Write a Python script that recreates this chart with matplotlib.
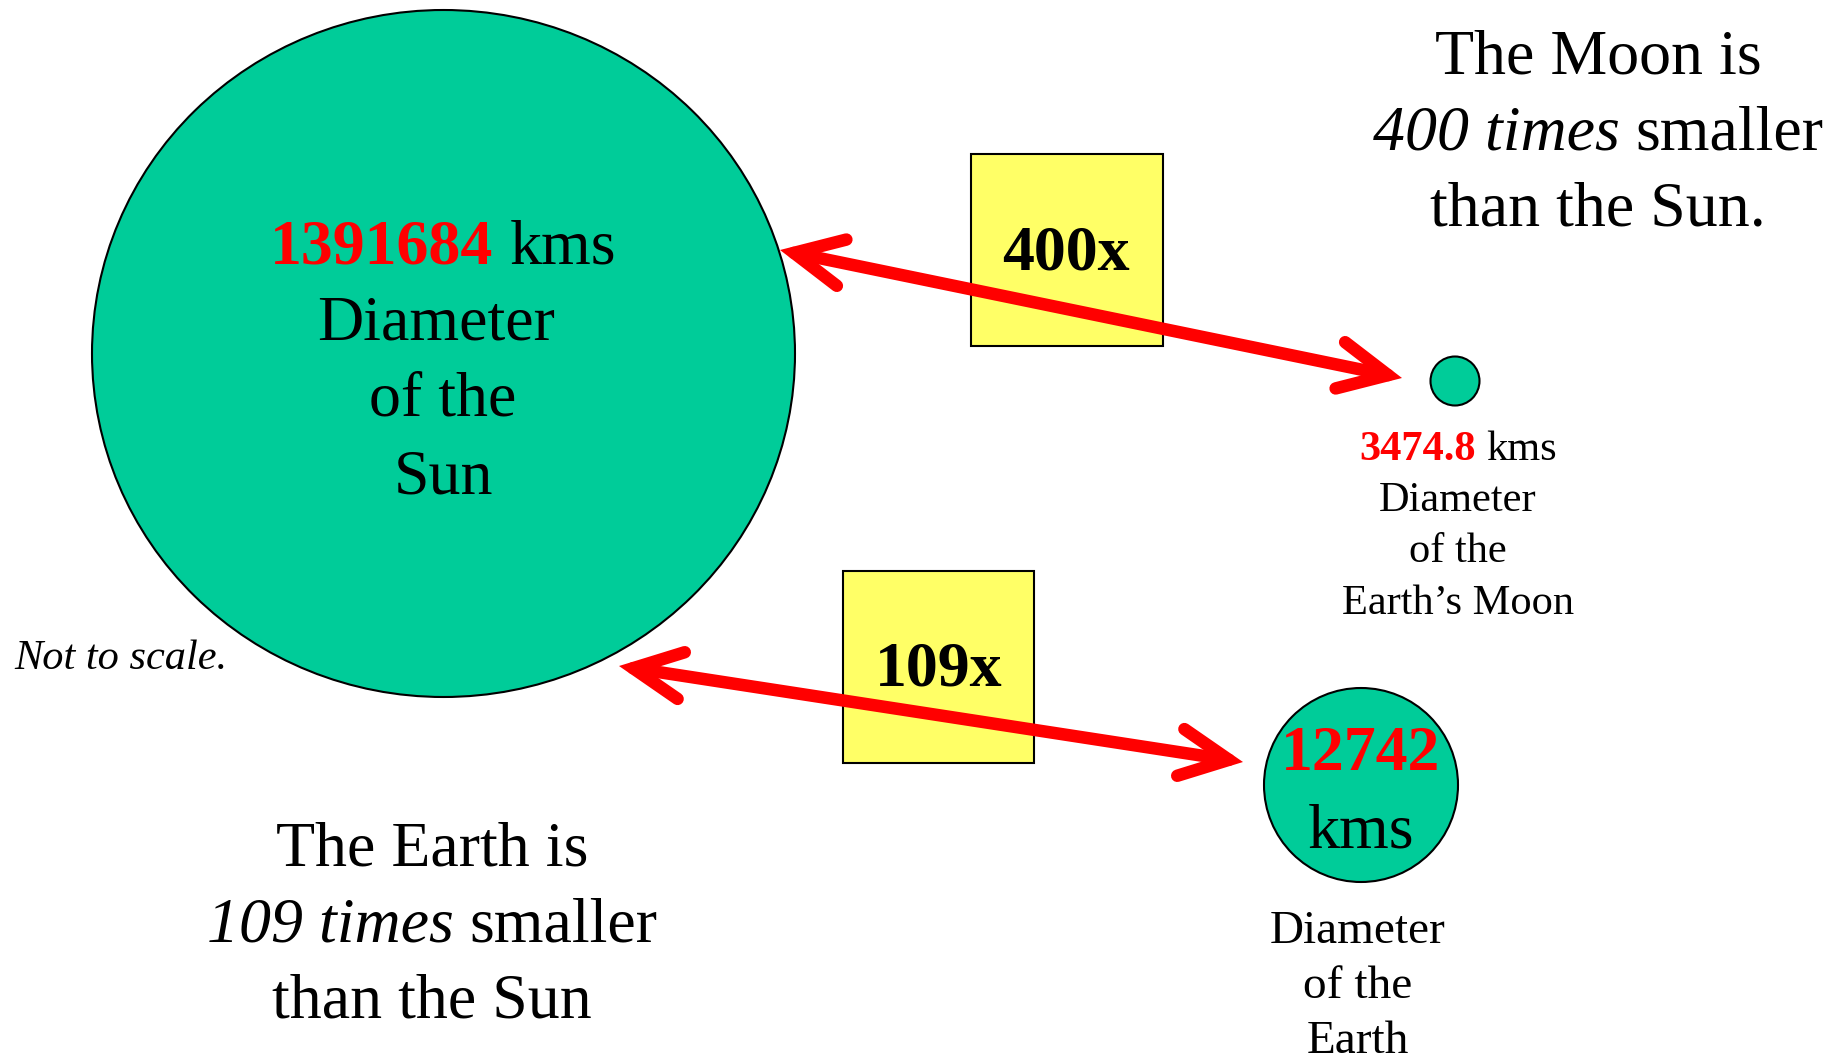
import matplotlib
matplotlib.use("Agg")
import matplotlib.pyplot as plt
from matplotlib.patches import Ellipse, Rectangle, FancyArrowPatch, ArrowStyle
from matplotlib.offsetbox import TextArea, HPacker, AnnotationBbox

plt.rcParams['font.family'] = ['Liberation Serif', 'DejaVu Serif']

# The numbers on the slide
bodies = ['Sun', 'Earth', 'Moon']
diameters_km = ['1391684', '12742', '3474.8']
ratio_labels = ['400x', '109x']   # sun/moon, sun/earth

GREEN = '#00CC99'
RED = '#FF0000'
YELLOW = '#FFFF66'

W, H = 1845, 1061
fig = plt.figure(figsize=(W / 100, H / 100), dpi=100)
ax = fig.add_axes([0, 0, 1, 1])
ax.set_xlim(0, W)
ax.set_ylim(H, 0)
ax.axis('off')


def mixed_line(x, y, parts, size):
    # parts: list of (text, color, weight, style)
    boxes = [TextArea(t, textprops=dict(color=c, fontweight=w, fontstyle=s, fontsize=size))
             for t, c, w, s in parts]
    pack = HPacker(children=boxes, align='baseline', pad=0, sep=size * 0.25)
    ab = AnnotationBbox(pack, (x, y), xycoords='data', frameon=False,
                        box_alignment=(0.5, 0.5), pad=0)
    ax.add_artist(ab)


def line(x, y, s, size, **kw):
    ax.text(x, y, s, fontsize=size, ha=kw.pop('ha', 'center'), va='center', **kw)


# circles (not to scale)
sun = Ellipse((443.5, 353.5), 703, 687, facecolor=GREEN, edgecolor='black', lw=1.5, zorder=1)
earth = Ellipse((1361, 785), 194, 194, facecolor=GREEN, edgecolor='black', lw=1.5, zorder=1)
moon = Ellipse((1455, 381), 49, 49, facecolor=GREEN, edgecolor='black', lw=1.5, zorder=1)
for p in (sun, earth, moon):
    ax.add_patch(p)

# yellow ratio boxes
ax.add_patch(Rectangle((971, 154), 192, 192, facecolor=YELLOW, edgecolor='black', lw=1.5, zorder=1))
ax.add_patch(Rectangle((842.5, 571), 191.5, 191.5, facecolor=YELLOW, edgecolor='black', lw=1.5, zorder=1))
line(1066, 255, ratio_labels[0], 46, fontweight='bold', zorder=2)
line(939, 671, ratio_labels[1], 46, fontweight='bold', zorder=2)

# red double arrows
style = ArrowStyle('<->', head_length=35, head_width=17)
for a, b in [((780, 250), (1402, 378)), ((619, 666), (1243, 762))]:
    arr = FancyArrowPatch(a, b, arrowstyle=style, mutation_scale=1, lw=9, color=RED,
                          capstyle='round', joinstyle='miter', shrinkA=0, shrinkB=0, zorder=3)
    ax.add_patch(arr)

# sun label
mixed_line(443, 248, [(diameters_km[0], RED, 'bold', 'normal'),
                      ('kms', 'black', 'normal', 'normal')], 46)
line(436, 325, 'Diameter', 46)
line(443, 401, 'of the', 46)
line(443, 478, bodies[0], 46)

# earth label
line(1361, 755, diameters_km[1], 46, color=RED, fontweight='bold')
line(1361, 832, 'kms', 46)
line(1358, 932, 'Diameter', 34)
line(1358, 987, 'of the', 34)
line(1358, 1042, bodies[1], 34)

# moon label
mixed_line(1458, 450, [(diameters_km[2], RED, 'bold', 'normal'),
                       ('kms', 'black', 'normal', 'normal')], 30.5)
line(1458, 501, 'Diameter', 30.5)
line(1458, 552, 'of the', 30.5)
line(1458, 604, "Earth\u2019s Moon", 30.5)

# explanations
line(1598, 59, 'The Moon is', 46)
mixed_line(1598, 135, [('400 times', 'black', 'normal', 'italic'),
                       ('smaller', 'black', 'normal', 'normal')], 46)
line(1598, 211, 'than the Sun.', 46)

line(432, 850, 'The Earth is', 46)
mixed_line(432, 926, [('109 times', 'black', 'normal', 'italic'),
                      ('smaller', 'black', 'normal', 'normal')], 46)
line(432, 1003, 'than the Sun', 46)

line(14, 659, 'Not to scale.', 30.5, ha='left', fontstyle='italic')

fig.savefig('out.png', dpi=100)
